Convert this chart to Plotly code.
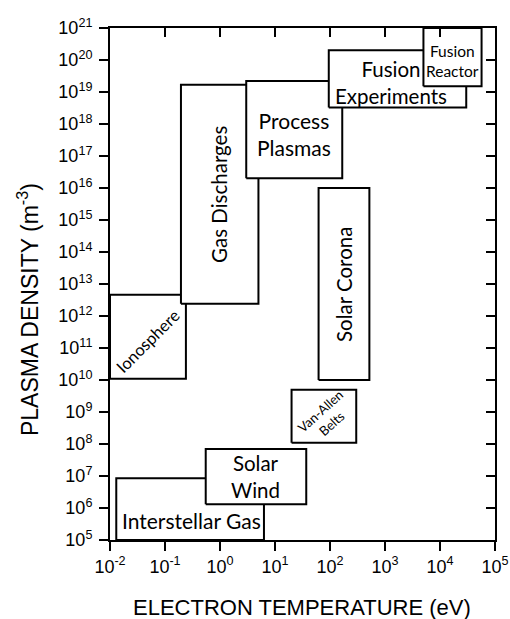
import numpy as np
import plotly.graph_objects as go

# ---- data ----
regions = ["Interstellar Gas", "Solar Wind", "Ionosphere", "Gas Discharges",
           "Process Plasmas", "Fusion Experiments", "Fusion Reactor",
           "Solar Corona", "Van-Allen Belts"]
t_low = [0.013, 0.55, 0.01, 0.195, 3.0, 95.0, 5.0e3, 62.0, 20.0]      # eV
t_high = [6.3, 37.0, 0.24, 5.0, 167.0, 3.0e4, 5.7e4, 520.0, 300.0]    # eV
n_low = [1e5, 1.3e6, 1.1e10, 2.4e12, 2e16, 3.3e18, 1.5e19, 1e10, 1.1e8]   # m^-3
n_high = [8.5e6, 7e7, 4.6e12, 1.7e19, 2.2e19, 2e20, 1e21, 1e16, 5e9]      # m^-3
region_labels = ["Interstellar Gas", "Solar<br>Wind", "Ionosphere", "Gas Discharges",
                 "Process<br>Plasmas", "Fusion<br>Experiments", "Fusion<br>Reactor",
                 "Solar Corona", "Van-Allen<br>Belts"]

x_tick_vals = [1e-2, 1e-1, 1e0, 1e1, 1e2, 1e3, 1e4, 1e5]
x_tick_text = ["10<sup>-2</sup>", "10<sup>-1</sup>", "10<sup>0</sup>", "10<sup>1</sup>",
               "10<sup>2</sup>", "10<sup>3</sup>", "10<sup>4</sup>", "10<sup>5</sup>"]
y_tick_vals = [10.0 ** k for k in range(5, 22)]
y_tick_text = ["10<sup>%d</sup>" % k for k in range(5, 22)]

x_title = "ELECTRON TEMPERATURE (eV)"
y_title = "PLASMA DENSITY (m<sup>-3</sup>)"

# ---- label styling (angle, font size, offsets in decades) ----
label_style = {
    "Interstellar Gas":   dict(angle=0,   size=21,   dx=0.03,  dy=-0.345),
    "Solar Wind":         dict(angle=0,   size=20.5, dx=0.0,   dy=0.0),
    "Ionosphere":         dict(angle=-45, size=16.5, dx=0.0,   dy=-0.12),
    "Gas Discharges":     dict(angle=-90, size=20.5, dx=0.0,   dy=0.0),
    "Process Plasmas":    dict(angle=0,   size=21,   dx=0.0,   dy=-0.12),
    "Fusion Experiments": dict(angle=0,   size=20.5, dx=-0.11, dy=-0.1),
    "Fusion Reactor":     dict(angle=0,   size=15.5, dx=0.0,   dy=-0.12),
    "Solar Corona":       dict(angle=-90, size=20.5, dx=0.0,   dy=0.0),
    "Van-Allen Belts":    dict(angle=-42, size=13,   dx=0.03,  dy=-0.03),
}

BOX_FONT = "Lato, 'Noto Sans', sans-serif"
AX_FONT = "'Liberation Sans', Arial, sans-serif"

fig = go.Figure()

for name, x0, x1, y0, y1 in zip(regions, t_low, t_high, n_low, n_high):
    fig.add_trace(go.Scatter(
        x=[x0, x1, x1, x0, x0], y=[y0, y0, y1, y1, y0],
        mode="lines", fill="toself", fillcolor="white",
        line=dict(color="black", width=2), name=name,
        hoverinfo="skip", showlegend=False,
    ))

annotations = []
for name, lab, x0, x1, y0, y1 in zip(regions, region_labels, t_low, t_high, n_low, n_high):
    st = label_style[name]
    cx = (np.log10(x0) + np.log10(x1)) / 2 + st["dx"]
    cy = (np.log10(y0) + np.log10(y1)) / 2 + st["dy"]
    annotations.append(dict(
        x=cx, y=cy, xref="x", yref="y", text=lab, showarrow=False,
        textangle=st["angle"], xanchor="center", yanchor="middle",
        font=dict(family=BOX_FONT, size=st["size"], color="black"),
    ))

# axis titles
annotations.append(dict(x=0.4987, y=-0.131, xref="paper", yref="paper", text=x_title,
                        showarrow=False, xanchor="center", yanchor="middle",
                        font=dict(family=AX_FONT, size=22, color="black")))
annotations.append(dict(x=-0.213, y=0.451, xref="paper", yref="paper", text=y_title,
                        showarrow=False, xanchor="center", yanchor="middle", textangle=-90,
                        font=dict(family=AX_FONT, size=23, color="black")))

# invisible trace to activate the mirrored (inside-tick) axes
fig.add_trace(go.Scatter(x=[1e-2], y=[1e5], xaxis="x2", yaxis="y2", mode="markers",
                         marker=dict(opacity=0), hoverinfo="skip", showlegend=False))

common = dict(showgrid=False, zeroline=False, color="black", automargin=False)
fig.update_layout(
    width=510, height=619,
    margin=dict(l=110, r=15, t=28, b=79, autoexpand=False),
    paper_bgcolor="white", plot_bgcolor="white",
    showlegend=False,
    xaxis=dict(type="log", range=[-2, 5], tickmode="array", tickvals=x_tick_vals,
               ticktext=x_tick_text, ticks="outside", ticklen=9, tickwidth=2,
               tickcolor="black", showline=True, linewidth=2, linecolor="black",
               mirror=True, tickfont=dict(family=AX_FONT, size=18, color="black"),
               **common),
    yaxis=dict(type="log", range=[5, 21], tickmode="array", tickvals=y_tick_vals,
               ticktext=y_tick_text, ticks="outside", ticklen=9, tickwidth=2,
               tickcolor="black", showline=True, linewidth=2, linecolor="black",
               mirror=True, tickfont=dict(family=AX_FONT, size=18, color="black"),
               ticklabelstandoff=3, **common),
    xaxis2=dict(type="log", range=[-2, 5], overlaying="x", side="top", tickmode="array",
                tickvals=x_tick_vals[1:-1], ticks="inside", ticklen=9, tickwidth=2,
                tickcolor="black", showticklabels=False, showline=False, **common),
    yaxis2=dict(type="log", range=[5, 21], overlaying="y", side="right", tickmode="array",
                tickvals=y_tick_vals[1:-1], ticks="inside", ticklen=9, tickwidth=2,
                tickcolor="black", showticklabels=False, showline=False, **common),
    annotations=annotations,
)

fig.write_html("out.html", config={"displayModeBar": False},
               post_script="document.body.style.margin='0';document.body.style.overflow='hidden';")
